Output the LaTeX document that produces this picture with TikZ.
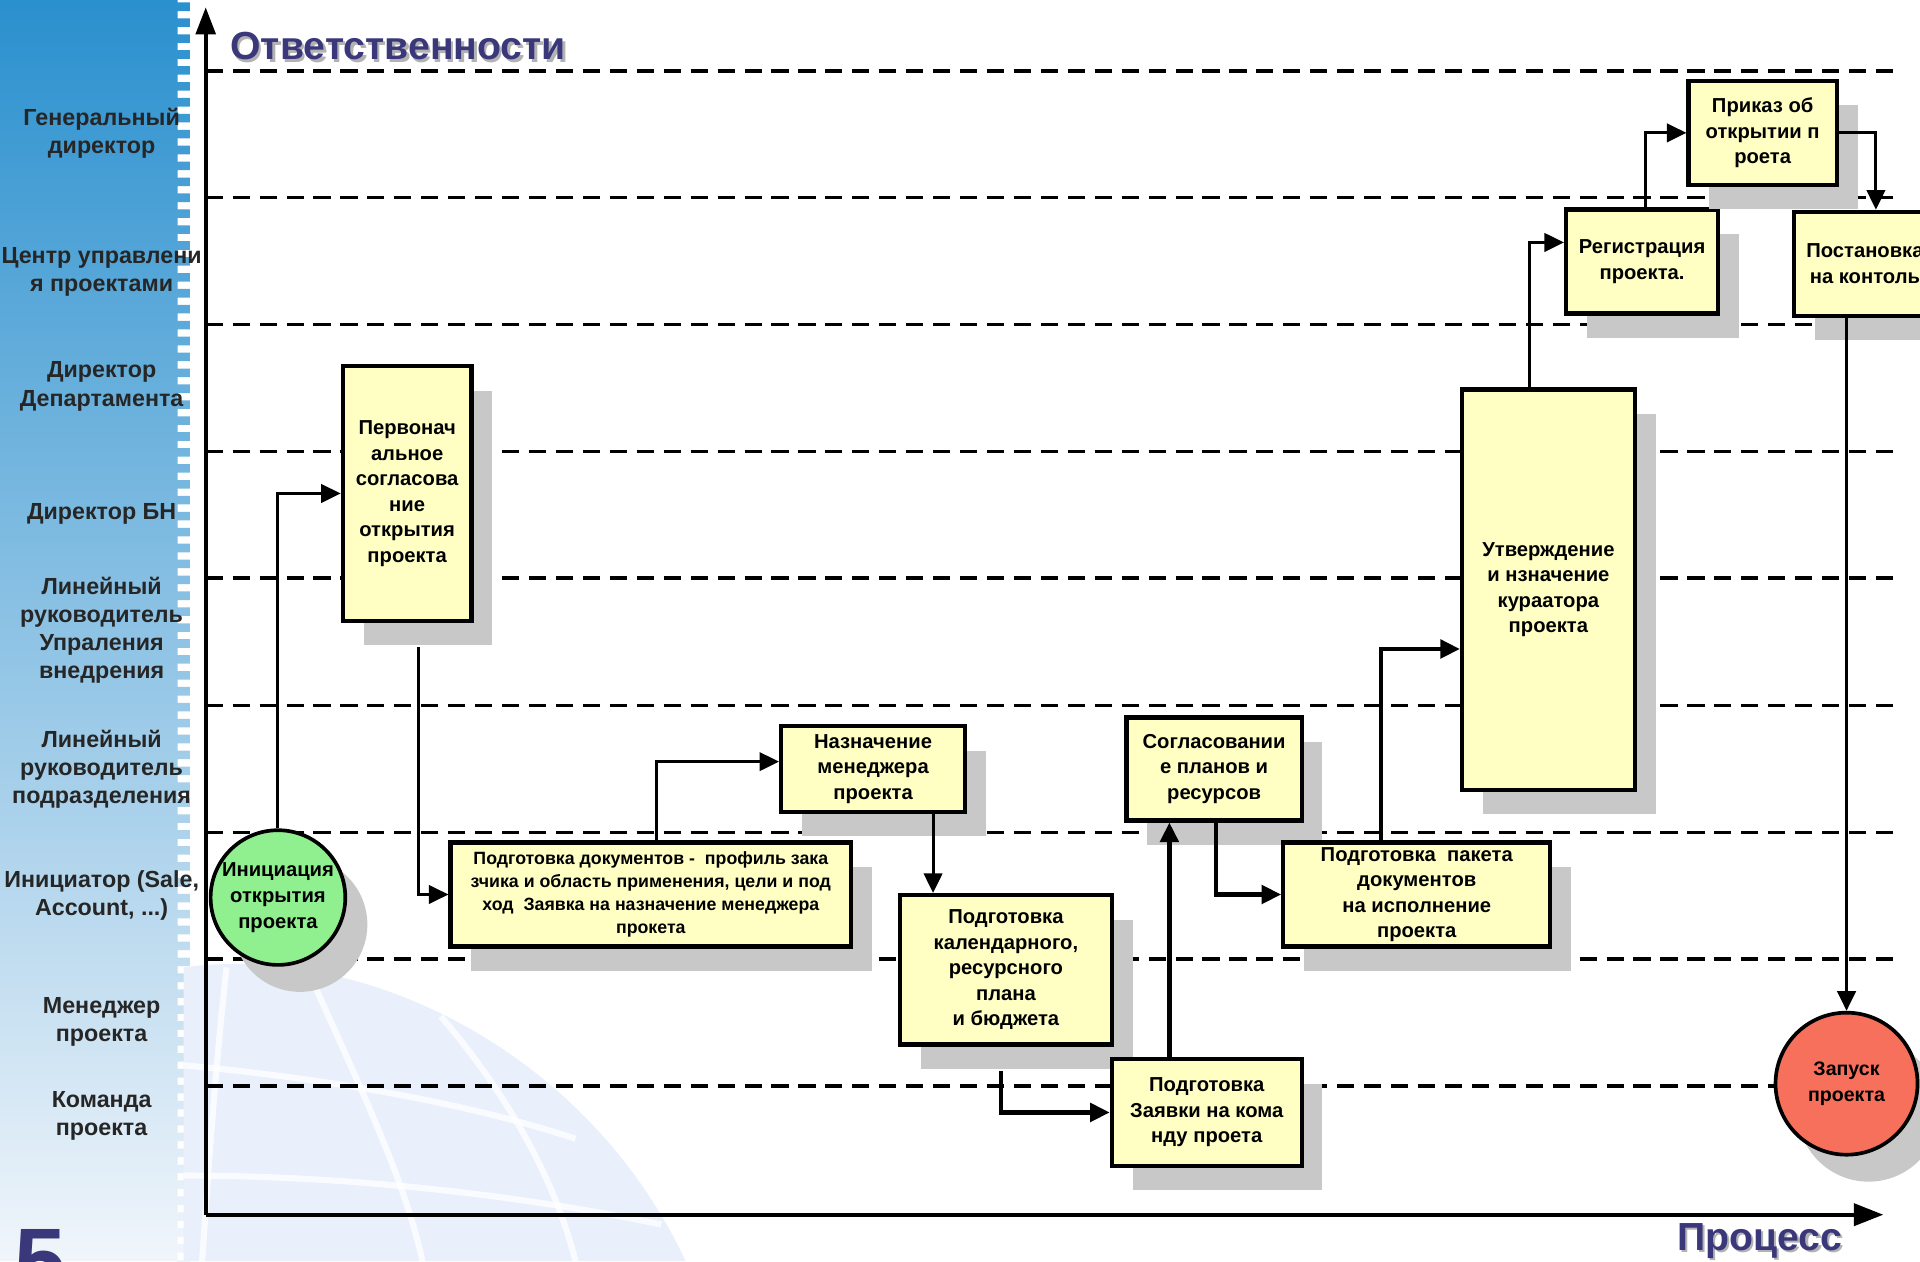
\documentclass[tikz,border=0pt]{standalone}
\usepackage{fontspec}
\setmainfont{Liberation Sans}
\usetikzlibrary{arrows.meta,shadows,calc}
\definecolor{boxyellow}{RGB}{255,255,196}
\definecolor{shadowgray}{RGB}{200,200,200}
\definecolor{initgreen}{RGB}{144,240,144}
\definecolor{launchred}{RGB}{246,112,92}
\definecolor{titlenavy}{RGB}{58,56,122}
\definecolor{stripTop}{RGB}{42,144,206}
\definecolor{stripMid}{RGB}{128,184,224}
\definecolor{stripBot}{RGB}{242,246,251}
\definecolor{globeblue}{RGB}{233,239,251}
\begin{document}
\begin{tikzpicture}[x=1pt,y=-1pt,
  lane/.style={dash pattern=on 14pt off 8pt, line width=2.8pt},
  axisline/.style={line width=3pt},
  lanelabel/.style={align=center, inner sep=0pt, font=\bfseries\fontsize{19}{23}\selectfont, text=black!85},
  box/.style={draw=black, line width=3.5pt, fill=boxyellow, inner sep=0pt, align=center,
    font=\bfseries\fontsize{16.5}{20.8}\selectfont,
    drop shadow={shadow xshift=17pt, shadow yshift=-20pt, fill=shadowgray, opacity=1}},
  smallbox/.style={box, font=\bfseries\fontsize{14.5}{19}\selectfont},
  event/.style={circle, draw=black, line width=3pt, inner sep=0pt,
    drop shadow={shadow xshift=18pt, shadow yshift=-22pt, fill=shadowgray, opacity=1}},
  conn/.style={line width=2.4pt, -{Triangle[length=16pt,width=15pt]}},
  connthick/.style={line width=3.6pt, -{Triangle[length=16pt,width=15pt]}},
  bigtitle/.style={inner sep=0pt, font=\bfseries\fontsize{32}{36}\selectfont}
]
\useasboundingbox (0,0) rectangle (1568,1030);
\clip (0,0) rectangle (1568,1030);
\fill[white] (0,0) rectangle (1568,1030);

% left strip with notched edge
\shade[top color=stripTop, middle color=stripMid, bottom color=stripBot]
  (0,0) rectangle (145,1030)
  \foreach \i in {0,...,79}{ (144,\i*13+2) rectangle (155,\i*13+9) };

% faint globe watermark
\fill[globeblue] (150,1030) -- (150,790) .. controls (300,770) and (480,860) .. (560,1030) -- cycle;
\begin{scope}[white, line width=5pt, opacity=0.8]
  \draw (185,790) .. controls (175,880) and (170,960) .. (165,1030);
  \draw (255,800) .. controls (290,880) and (330,960) .. (345,1030);
  \draw (360,830) .. controls (420,900) and (455,970) .. (470,1030);
  \draw (150,870) .. controls (260,880) and (380,900) .. (470,930);
  \draw (150,960) .. controls (280,960) and (420,975) .. (540,1000);
\end{scope}

% big slide number
\node[anchor=base west, inner sep=0pt, text=titlenavy, font=\bfseries\fontsize{76}{80}\selectfont] (num) at (12,1056) {5};

% swimlane separators
\foreach \y in {58,161.5,265,368.5,472,576,680,783,887}
  \draw[lane] (168,\y) -- (1553,\y);

% axes
\coordinate (O) at (168,992);
\coordinate (ytop) at (168,6);
\coordinate (xend) at (1538,992);
\draw[axisline, -{Triangle[length=22pt,width=16pt]}] (O) -- (ytop);
\draw[axisline, -{Triangle[length=24pt,width=18pt]}] (O) -- (xend);

% axis titles
\node[bigtitle, anchor=base west, text=black!30] at (190,51) {Ответственности};
\node[bigtitle, anchor=base west, text=titlenavy] (ttl) at (188,49) {Ответственности};
\node[bigtitle, anchor=base, text=black!30] at (1439,1023) {Процесс};
\node[bigtitle, anchor=base, text=titlenavy] (proc) at (1437,1021) {Процесс};

% lane labels
\node[lanelabel] (L1) at (83,109) {Генеральный\\директор};
\node[lanelabel] (L2) at (83,222) {Центр управлени\\я проектами};
\node[lanelabel] (L3) at (83,315.5) {Директор\\Департамента};
\node[lanelabel] (L4) at (83,420) {Директор БН};
\node[lanelabel] (L5) at (83,514.5) {Линейный\\руководитель\\Упраления\\внедрения};
\node[lanelabel] (L6) at (83,628) {Линейный\\руководитель\\подразделения};
\node[lanelabel] (L7) at (83,731.5) {Инициатор (Sale,\\Account, ...)};
\node[lanelabel] (L8) at (83,834.5) {Менеджер\\проекта};
\node[lanelabel] (L9) at (83,911.5) {Команда\\проекта};

% process steps
\node[event, fill=initgreen, minimum size=110pt,
  label={[align=center, font=\bfseries\fontsize{16.5}{21.5}\selectfont]center:Инициация\\открытия\\проекта}] (c1) at (227,733) {};
\node[box, minimum width=105pt, minimum height=208pt] (b1) at (332.5,403)
  {Первонач\\альное\\согласова\\ние\\открытия\\проекта};
\node[smallbox, minimum width=327pt, minimum height=85pt] (b3) at (531.5,730.5)
  {Подготовка документов -\ \ профиль зака\\зчика и область применения, цели и под\\ход\ \ Заявка на назначение менеджера\\прокета};
\node[box, minimum width=150pt, minimum height=70pt] (b4) at (713,628)
  {Назначение\\менеджера\\проекта};
\node[box, minimum width=173pt, minimum height=122pt] (b5) at (821.5,792)
  {Подготовка\\календарного,\\ресурсного\\плана\\и бюджета};
\node[box, minimum width=155pt, minimum height=87pt] (b6) at (985.5,908.5)
  {Подготовка\\Заявки на кома\\нду проета};
\node[box, minimum width=143pt, minimum height=84pt] (b7) at (991.5,628)
  {Согласовании\\е планов и\\ресурсов};
\node[box, minimum width=218pt, minimum height=85pt] (b8) at (1157,730.5)
  {Подготовка\ \ пакета\\документов\\на исполнение\\проекта};
\node[box, minimum width=141pt, minimum height=327pt] (b9) at (1264.5,481.5)
  {Утверждение\\и нзначение\\кураатора\\проекта};
\node[box, minimum width=124pt, minimum height=85pt] (b10) at (1341,213.5)
  {Регистрация\\проекта.};
\node[box, minimum width=121pt, minimum height=85pt] (b11) at (1439.5,108.5)
  {Приказ об\\открытии п\\роета};
\node[box, minimum width=116pt, minimum height=85pt] (b12) at (1523,215.5)
  {Постановка\\на контоль};
\node[event, fill=launchred, minimum size=116pt,
  label={[align=center, font=\bfseries\fontsize{16}{21}\selectfont]center:Запуск\\проекта}] (c2) at (1508,885) {};

% connector guide coordinates
\coordinate (dx) at (762,0);
\coordinate (fx) at (955,0);
\coordinate (gx) at (993,0);
\coordinate (hx) at (1128,0);
\coordinate (hy) at (0,530);
\coordinate (ix) at (1249,0);
\coordinate (iy) at (0,198);
\coordinate (jx) at (1344,0);
\coordinate (kx) at (1532,0);

% connectors
\draw[conn] (c1.north) |- (b1.west);
\draw[conn] ($(b1.south)+(9,20)$) |- (b3.west);
\draw[conn] ($(b3.north)+(5,0)$) |- ($(b4.west)+(0,-6)$);
\draw[conn] (b4.south -| dx) -- (b5.north -| dx);
\draw[connthick] ($(b5.south)+(-4,20)$) |- (b6.west);
\draw[connthick] (b6.north -| fx) -- (b7.south -| fx);
\draw[connthick] (b7.south -| gx) |- (b8.west);
\draw[connthick] (b8.north -| hx) |- (b9.west |- hy);
\draw[conn] (b9.north -| ix) |- (b10.west |- iy);
\draw[conn] (b10.north -| jx) |- (b11.west);
\draw[conn] (b11.east) -| (b12.north -| kx);
\draw[conn] (b12.south -| c2.north) -- (c2.north);
\end{tikzpicture}
\end{document}
